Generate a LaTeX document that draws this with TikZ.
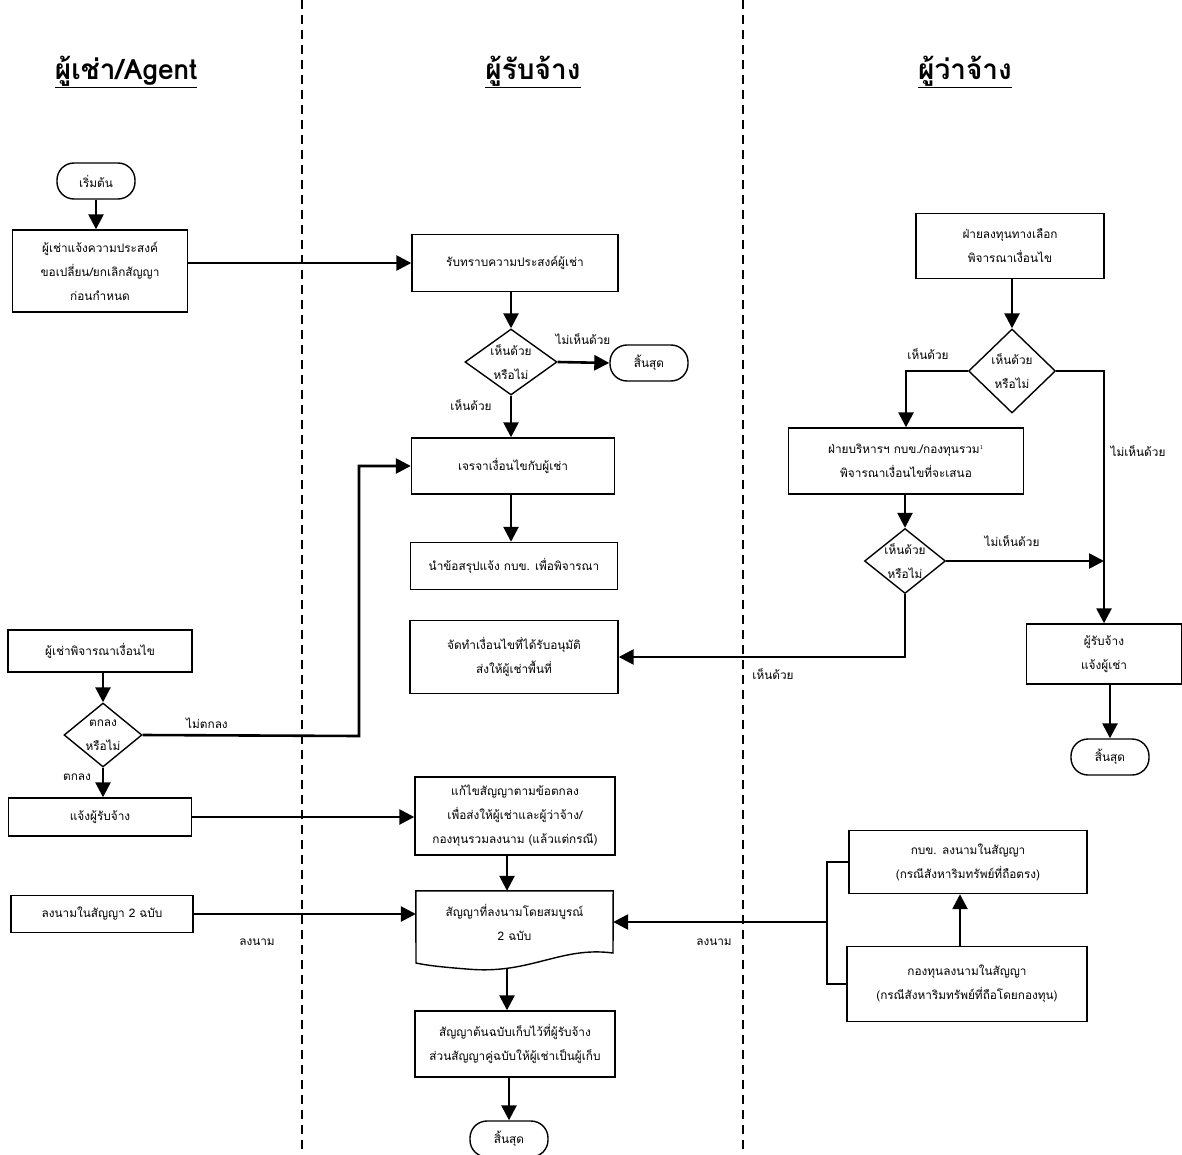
\documentclass[tikz,border=0pt]{standalone}
\usepackage{fontspec}
\newfontfamily\thaifont[Script=Thai]{Loma}
\usetikzlibrary{arrows.meta,shapes.geometric}

\begin{document}
\begin{tikzpicture}[x=1pt,y=-1pt,
  font=\thaifont\fontsize{11.8}{24}\selectfont,
  box/.style={draw,line width=1.4pt,align=center,inner sep=0pt},
  term/.style={draw,line width=1.4pt,rounded corners=17pt,inner sep=0pt,minimum width=78pt,minimum height=36pt},
  dia/.style={draw,line width=1.4pt,diamond,inner sep=0pt},
  arr/.style={line width=2.6pt,-{Triangle[length=15pt,width=15pt]}},
  head/.style={font=\thaifont\bfseries\fontsize{28}{30}\selectfont},
  note/.style={inner sep=1pt}]
\useasboundingbox (0,0) rectangle (1182,1155);

% swim lanes
\draw[line width=1.5pt,dash pattern=on 9pt off 6pt] (302,0) -- (302,1155);
\draw[line width=1.5pt,dash pattern=on 9pt off 6pt] (743,0) -- (743,1155);
\node[head] (hlessee) at (126,72) {\underline{ผู้เช่า/Agent}};
\node[head] (hcontractor) at (533,72) {\underline{ผู้รับจ้าง}};
\node[head] (hemployer) at (965,72) {\underline{ผู้ว่าจ้าง}};

% lessee lane
\node[term] (start) at (96,181) {เริ่มต้น};
\node[box,minimum width=175pt,minimum height=82pt] (ask) at (100,271) {ผู้เช่าแจ้งความประสงค์\\ขอเปลี่ยน/ยกเลิกสัญญา\\ก่อนกำหนด};
\node[box,minimum width=184pt,minimum height=42pt] (consider) at (100,651) {ผู้เช่าพิจารณาเงื่อนไข};
\node[dia,minimum width=78pt,minimum height=64pt,label={[align=center]center:ตกลง\\หรือไม่}] (agree) at (103,735) {};
\node[box,minimum width=183pt,minimum height=38pt] (inform) at (100,817) {แจ้งผู้รับจ้าง};
\node[box,minimum width=182pt,minimum height=37pt] (sign) at (102,914) {ลงนามในสัญญา 2 ฉบับ};

% contractor lane
\node[box,minimum width=206pt,minimum height=57pt] (ack) at (515,263) {รับทราบความประสงค์ผู้เช่า};
\node[dia,minimum width=92pt,minimum height=66pt,label={[align=center]center:เห็นด้วย\\หรือไม่}] (ok1) at (511,362) {};
\node[term] (end1) at (649,363) {สิ้นสุด};
\node[box,minimum width=203pt,minimum height=56pt] (nego) at (513,466) {เจรจาเงื่อนไขกับผู้เช่า};
\node[box,minimum width=207pt,minimum height=47pt] (summ) at (514,566) {นำข้อสรุปแจ้ง กบข. เพื่อพิจารณา};
\node[box,minimum width=208pt,minimum height=73pt] (approved) at (514,657) {จัดทำเงื่อนไขที่ได้รับอนุมัติ\\ส่งให้ผู้เช่าพื้นที่};
\node[box,minimum width=200pt,minimum height=78pt] (amend) at (515,816) {แก้ไขสัญญาตามข้อตกลง\\เพื่อส่งให้ผู้เช่าและผู้ว่าจ้าง/\\กองทุนรวมลงนาม (แล้วแต่กรณี)};
\node[align=center,minimum width=197pt,minimum height=62pt,inner sep=0pt] (doc) at (514.5,922) {สัญญาที่ลงนามโดยสมบูรณ์\\2 ฉบับ};
\draw[line width=1.4pt] (doc.north west) -- (doc.north east) -- (613,953)
  .. controls (560,946) and (530,975) .. (467,969) .. controls (440,967) and (425,965) .. (416,963) -- cycle;
\coordinate (docb) at (507,968);
\node[box,minimum width=200pt,minimum height=66pt] (keep) at (515,1044) {สัญญาต้นฉบับเก็บไว้ที่ผู้รับจ้าง\\ส่วนสัญญาคู่ฉบับให้ผู้เช่าเป็นผู้เก็บ};
\node[term] (end3) at (509,1139) {สิ้นสุด};

% employer lane
\node[box,minimum width=188pt,minimum height=65pt] (alt) at (1010,246) {ฝ่ายลงทุนทางเลือก\\พิจารณาเงื่อนไข};
\node[dia,minimum width=87pt,minimum height=84pt,label={[align=center]center:เห็นด้วย\\หรือไม่}] (ok2) at (1012,371) {};
\node[box,minimum width=235pt,minimum height=66pt] (mgmt) at (906,461) {ฝ่ายบริหารฯ กบข./กองทุนรวม$^{\scriptscriptstyle 1}$\\พิจารณาเงื่อนไขที่จะเสนอ};
\node[dia,minimum width=81pt,minimum height=65pt,label={[align=center]center:เห็นด้วย\\หรือไม่}] (ok3) at (905,561) {};
\node[box,minimum width=155pt,minimum height=60pt] (notify) at (1104,654) {ผู้รับจ้าง\\แจ้งผู้เช่า};
\node[term] (end2) at (1110,757) {สิ้นสุด};
\node[box,minimum width=238pt,minimum height=63pt] (gpf) at (968,862) {กบข. ลงนามในสัญญา\\(กรณีสังหาริมทรัพย์ที่ถือตรง)};
\node[box,minimum width=240pt,minimum height=75pt] (fund) at (967,984) {กองทุนลงนามในสัญญา\\(กรณีสังหาริมทรัพย์ที่ถือโดยกองทุน)};

% bends
\coordinate (k1) at (359,736);
\coordinate (k2) at (1104,561);
\coordinate (brk) at (827,922);

% connectors
\draw[arr] (start) -- (start.south |- ask.north);
\draw[arr] (ack.west -| ask.east) -- (ack.west);
\draw[arr] (ack.south -| ok1.north) -- (ok1.north);
\draw[arr] (ok1.east) -- (end1.west);
\draw[arr] (ok1.south) -- (ok1.south |- nego.north);
\draw[arr] (nego.south -| ok1.south) -- (ok1.south |- summ.north);
\draw[arr] (consider.south -| agree.north) -- (agree.north);
\draw[arr] (agree.east) -- (k1) |- (nego.west);
\draw[arr] (agree.south) -- (agree.south |- inform.north);
\draw[arr] (inform.east) -- (inform.east -| amend.west);
\draw[arr] (amend.south -| docb) -- (doc.north -| docb);
\draw[arr] (sign.east) -- (sign.east -| doc.west);
\draw[line width=1.4pt] (gpf.west) -| (brk) |- (fund.west);
\draw[arr] (brk) -- (brk -| doc.east);
\draw[arr] (docb) -- (docb |- keep.north);
\draw[arr] (keep.south -| end3) -- (end3.north);
\draw[arr] (alt.south -| ok2.north) -- (ok2.north);
\draw[arr] (ok2.west) -| (mgmt.north);
\draw[arr] (ok2.east) -| (notify.north);
\draw[arr] (mgmt.south -| ok3.north) -- (ok3.north);
\draw[arr] (ok3.east) -- (k2);
\draw[arr] (ok3.south) |- (approved.east);
\draw[arr] (notify.south -| end2.north) -- (end2.north);
\draw[arr] (fund.north -| 960,0) -- (gpf.south -| 960,0);

% connector labels
\node[note] (lno1) at (583,339) {ไม่เห็นด้วย};
\node[note] (lyes1) at (471,405) {เห็นด้วย};
\node[note] (lyes2) at (928,354) {เห็นด้วย};
\node[note] (lno2) at (1138,451) {ไม่เห็นด้วย};
\node[note] (lno3) at (1012,541) {ไม่เห็นด้วย};
\node[note] (lyes3) at (773,674) {เห็นด้วย};
\node[note] (lnot) at (207,723) {ไม่ตกลง};
\node[note] (lagree) at (77,777) {ตกลง};
\node[note] (lsign1) at (257,942) {ลงนาม};
\node[note] (lsign2) at (714,942) {ลงนาม};
\end{tikzpicture}
\end{document}
